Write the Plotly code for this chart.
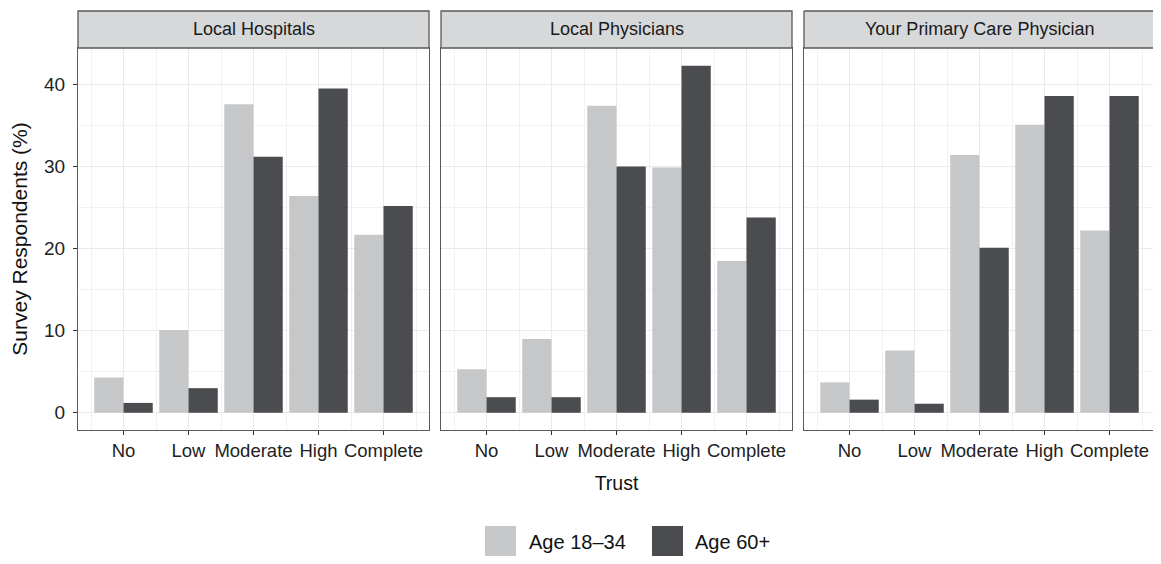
import plotly.graph_objects as go
from plotly.subplots import make_subplots

categories = ["No", "Low", "Moderate", "High", "Complete"]
panels = ["Local Hospitals", "Local Physicians", "Your Primary Care Physician"]
series_names = ["Age 18–34", "Age 60+"]

young_hospitals = [4.3, 10.1, 37.6, 26.4, 21.7]
old_hospitals = [1.2, 3.0, 31.2, 39.5, 25.2]
young_physicians = [5.3, 9.0, 37.4, 29.9, 18.5]
old_physicians = [1.9, 1.9, 30.0, 42.3, 23.8]
young_pcp = [3.7, 7.6, 31.4, 35.1, 22.2]
old_pcp = [1.6, 1.1, 20.1, 38.6, 38.6]

y_ticks = [0, 10, 20, 30, 40]

panel_data = [
    (young_hospitals, old_hospitals),
    (young_physicians, old_physicians),
    (young_pcp, old_pcp),
]

LIGHT = "#c6c7c9"
DARK = "#4b4c4f"
FONT = "Liberation Sans, Arial, Helvetica, sans-serif"
BORDER = "#5a5a5a"
GRID = "#ebebeb"

# The page body adds an 8px margin; the visible figure area is page x 8..1153.
OFF = 8
W, H = 1161 - 2 * OFF, 564 - 2 * OFF
ML, MR, MT = 78 - OFF, 0, 48 - OFF
MB = H - (430 - OFF)
plot_w = W - ML - MR
ph = H - MT - MB
VIS_RIGHT = OFF + W

# panel extents in page pixels (third panel runs just past the right edge like the reference)
full_panel_w = 351.0
panel_gap = 12.0
panel_px = []
for k in range(3):
    p0 = 78 + k * (full_panel_w + panel_gap)
    panel_px.append((p0, min(p0 + full_panel_w, VIS_RIGHT)))
x_lo, x_hi = 0.3, 5.7

def dom(p0, p1):
    return [max(0.0, (p0 - OFF - ML) / plot_w), min(1.0, (p1 - OFF - ML) / plot_w)]

fig = make_subplots(rows=1, cols=3, shared_yaxes=True)

xpos = list(range(1, len(categories) + 1))

for i, (young, old) in enumerate(panel_data):
    col = i + 1
    fig.add_trace(go.Bar(x=xpos, y=young, name=series_names[0], marker_color=LIGHT,
                         marker_line_width=0, showlegend=False, offsetgroup="a"), row=1, col=col)
    fig.add_trace(go.Bar(x=xpos, y=old, name=series_names[1], marker_color=DARK,
                         marker_line_width=0, showlegend=False, offsetgroup="b"), row=1, col=col)

for i in range(3):
    col = i + 1
    p0, p1 = panel_px[i]
    vis_hi = x_lo + (x_hi - x_lo) * (p1 - p0) / full_panel_w
    fig.update_xaxes(
        row=1, col=col, domain=dom(p0, p1),
        range=[x_lo, vis_hi], tickmode="array", tickvals=xpos, ticktext=categories,
        showgrid=True, gridcolor=GRID, gridwidth=1.3,
        minor=dict(tick0=0.5, dtick=1, showgrid=True, gridcolor="#f1f1f1", gridwidth=0.8),
        showline=True, linecolor=BORDER, linewidth=1.3, mirror=True,
        ticks="outside", ticklen=4, tickcolor="#333333", tickwidth=1.3,
        tickfont=dict(family=FONT, size=18.5, color="#222222"),
        zeroline=False, fixedrange=True,
    )
    fig.update_yaxes(
        row=1, col=col,
        range=[-2.1, 44.45], tickmode="array", tickvals=y_ticks,
        showgrid=True, gridcolor=GRID, gridwidth=1.3,
        minor=dict(dtick=5, showgrid=True, gridcolor="#f1f1f1", gridwidth=0.8),
        showline=True, linecolor=BORDER, linewidth=1.3, mirror=(col != 3),
        ticks="outside" if col == 1 else "", ticklen=4, tickcolor="#333333", tickwidth=1.3,
        showticklabels=(col == 1), ticklabelstandoff=4,
        tickfont=dict(family=FONT, size=19, color="#222222"),
        zeroline=False, fixedrange=True,
    )

fig.update_xaxes(row=1, col=2, title=dict(text="Trust", font=dict(family=FONT, size=19.5, color="#111111"), standoff=16))
fig.update_yaxes(row=1, col=1, title=dict(text="Survey Respondents (%)", font=dict(family=FONT, size=21, color="#111111"), standoff=16))

# facet strips
xrefs = ["x domain", "x2 domain", "x3 domain"]
strip_top = 1.0 + 37 / ph
for i, name in enumerate(panels):
    p0, p1 = panel_px[i]
    if i < 2:
        fig.add_shape(type="rect", xref=xrefs[i], yref="paper", x0=0, x1=1, y0=1.0, y1=strip_top,
                      fillcolor="#d7d8da", line=dict(color=BORDER, width=1.3), layer="above")
    else:
        fig.add_shape(type="rect", xref=xrefs[i], yref="paper", x0=0, x1=1, y0=1.0, y1=strip_top,
                      fillcolor="#d7d8da", line=dict(width=0), layer="above")
        for (a0, b0, a1, b1) in [(0, 1.0, 1, 1.0), (0, strip_top, 1, strip_top), (0, 1.0, 0, strip_top)]:
            fig.add_shape(type="line", xref=xrefs[i], yref="paper", x0=a0, y0=b0, x1=a1, y1=b1,
                          line=dict(color=BORDER, width=1.3), layer="above")
    centre = (full_panel_w / 2) / (p1 - p0)
    fig.add_annotation(text=name, xref=xrefs[i], yref="paper", x=centre, y=1.0 + 18.5 / ph,
                       showarrow=False, xanchor="center", yanchor="middle",
                       font=dict(family=FONT, size=18, color="#1a1a1a"))

# legend (drawn manually for large ggplot-style keys); positions in page pixels
def py(pixel_y):
    return (H - MB - (pixel_y - OFF)) / ph
def px(pixel_x):
    return ((pixel_x - OFF) - ML) / plot_w

legend_items = [(series_names[0], LIGHT, 485, 527), (series_names[1], DARK, 652, 693)]
for name, color, sx, tx in legend_items:
    fig.add_shape(type="rect", xref="paper", yref="paper", x0=px(sx), x1=px(sx + 31),
                  y0=py(557), y1=py(526), fillcolor=color, line=dict(width=0))
    fig.add_annotation(text=name, xref="paper", yref="paper", x=px(tx), y=py(541.5),
                       showarrow=False, xanchor="left", yanchor="middle",
                       font=dict(family=FONT, size=20, color="#111111"))

fig.update_layout(
    width=W, height=H,
    margin=dict(l=ML, r=MR, t=MT, b=MB),
    paper_bgcolor="white", plot_bgcolor="white",
    barmode="group", bargap=0.1, bargroupgap=0,
    showlegend=False,
    font=dict(family=FONT),
)

fig.write_html("out.html")
